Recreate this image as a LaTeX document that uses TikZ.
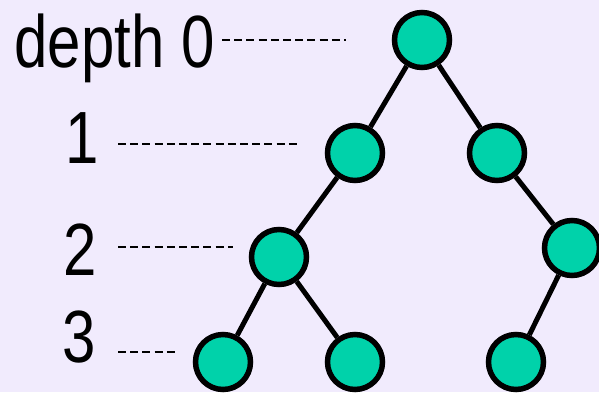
\documentclass[tikz,border=0pt]{standalone}
\usepackage{fontspec}
\setmainfont{Liberation Sans}
\definecolor{bgcol}{RGB}{241,235,253}
\definecolor{nodefill}{RGB}{0,210,170}
\begin{document}
\begin{tikzpicture}[x=1pt,y=-1pt,
  treenode/.style={circle,draw=black,line width=5.5pt,fill=nodefill,minimum size=55pt,inner sep=0pt},
  edge/.style={line width=5pt},
  levelline/.style={line width=1.4pt,dash pattern=on 8pt off 4.2pt},
  label/.style={anchor=base,inner sep=0pt,font=\fontsize{74}{80}\selectfont,xscale=0.81}]
  % canvas
  \fill[bgcol] (0,0) rectangle (599,392);
  \useasboundingbox (0,0) rectangle (599,392);

  % depth labels
  \node[label,anchor=base west] (l0) at (14.5,67) {depth 0};
  \node[label] (l1) at (82,163) {1};
  \node[label] (l2) at (80.5,275) {2};
  \node[label] (l3) at (79,362) {3};

  % level guide lines
  \coordinate (g0a) at (222,40);  \coordinate (g0b) at (346,40);
  \coordinate (g1a) at (118,144); \coordinate (g1b) at (300,144);
  \coordinate (g2a) at (118,247); \coordinate (g2b) at (233,247);
  \coordinate (g3a) at (118,352); \coordinate (g3b) at (177,352);
  \draw[levelline] (g0a) -- (g0b);
  \draw[levelline] (g1a) -- (g1b);
  \draw[levelline] (g2a) -- (g2b);
  \draw[levelline] (g3a) -- (g3b);

  % tree nodes
  \node[treenode] (r)   at (422,40) {};
  \node[treenode] (a)   at (355,153) {};
  \node[treenode] (b)   at (497,153) {};
  \node[treenode] (c)   at (279,257) {};
  \node[treenode] (d)   at (572,248) {};
  \node[treenode] (e)   at (223,362) {};
  \node[treenode] (f)   at (355,362) {};
  \node[treenode] (g)   at (516,362) {};

  % tree edges
  \draw[edge] (r) -- (a);
  \draw[edge] (r) -- (b);
  \draw[edge] (a) -- (c);
  \draw[edge] (b) -- (d);
  \draw[edge] (c) -- (e);
  \draw[edge] (c) -- (f);
  \draw[edge] (d) -- (g);
\end{tikzpicture}
\end{document}
